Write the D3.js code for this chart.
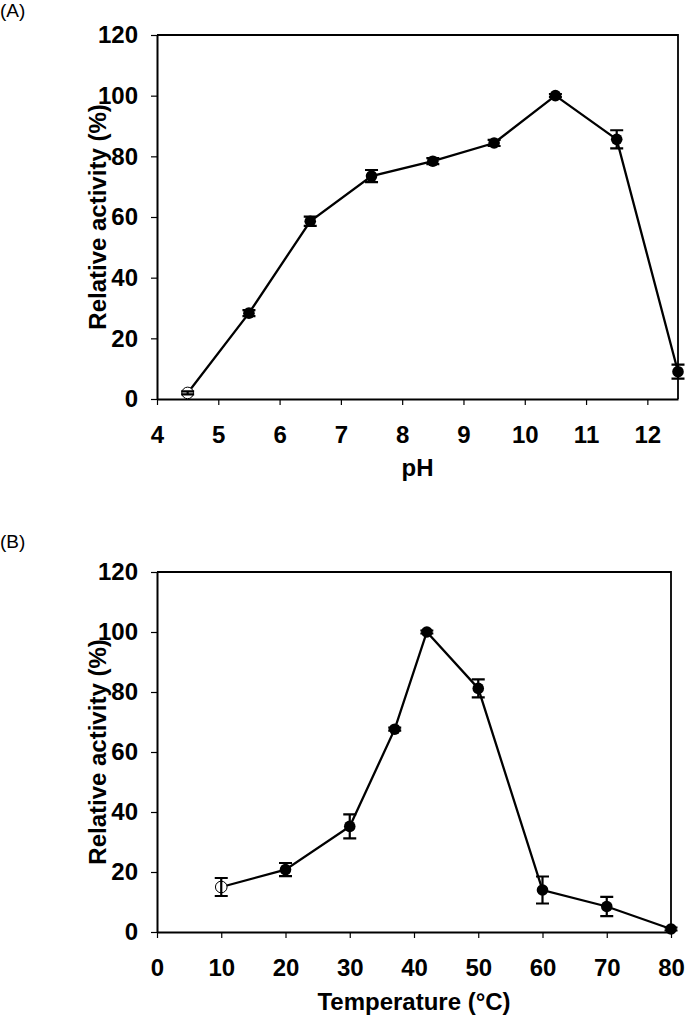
<!DOCTYPE html>
<html>
<head>
<meta charset="utf-8">
<script src="https://cdn.jsdelivr.net/npm/d3@7"></script>
<style>
  html, body { margin: 0; padding: 0; background: #fff; }
  svg { display: block; }
  text { font-family: "Liberation Sans", Arial, sans-serif; fill: #000; }
</style>
</head>
<body>
<svg id="chart" width="685" height="1022"></svg>
<script>
// ---------- Data ----------
const phValues = [4.5, 5.5, 6.5, 7.5, 8.5, 9.5, 10.5, 11.5, 12.5];
const phActivity = [2, 28.3, 58.6, 73.5, 78.4, 84.4, 100, 85.6, 9];
const phError = [0.5, 1, 1.5, 2, 1, 1, 0.5, 3, 2.3];
const phOpen = [true, false, false, false, false, false, false, false, false];
const phTicks = [4, 5, 6, 7, 8, 9, 10, 11, 12];

const tempValues = [10, 20, 30, 37, 42, 50, 60, 70, 80];
const tempActivity = [15, 20.8, 35.2, 67.6, 100, 81.2, 14, 8.5, 1];
const tempError = [3, 2.2, 4, 0.5, 0.5, 3, 4.5, 3.2, 0.5];
const tempOpen = [true, false, false, false, false, false, false, false, false];
const tempTicks = [0, 10, 20, 30, 40, 50, 60, 70, 80];

const yTicks = [0, 20, 40, 60, 80, 100, 120];

const svg = d3.select("#chart");

function panel(cfg) {
  const g = svg.append("g");
  const x = d3.scaleLinear().domain(cfg.xDomain).range([cfg.left, cfg.right]);
  const y = d3.scaleLinear().domain([0, 120]).range([cfg.bottom, cfg.top]);

  // box (top & right)
  g.append("path")
    .attr("d", `M${cfg.left},${cfg.top}H${cfg.right}V${cfg.bottom}`)
    .attr("fill", "none").attr("stroke", "#000").attr("stroke-width", 1.8);

  // y axis
  const yAxis = g.append("g").attr("transform", `translate(${cfg.left},0)`)
    .call(d3.axisLeft(y).tickValues(yTicks).tickSize(6).tickPadding(13).tickSizeOuter(0));
  yAxis.select(".domain").attr("stroke-width", 2);
  yAxis.selectAll(".tick line").attr("stroke-width", 1.2);
  yAxis.selectAll("text").attr("font-size", 24).attr("font-weight", "bold")
    .attr("font-family", "'Liberation Sans', Arial, sans-serif");

  // x axis
  const xAxis = g.append("g").attr("transform", `translate(0,${cfg.bottom})`)
    .call(d3.axisBottom(x).tickValues(cfg.xTicks).tickSize(6).tickPadding(21).tickSizeOuter(0));
  xAxis.select(".domain").attr("stroke-width", 2);
  xAxis.selectAll(".tick line").attr("stroke-width", 1.2);
  xAxis.selectAll("text").attr("font-size", 24).attr("font-weight", "bold")
    .attr("font-family", "'Liberation Sans', Arial, sans-serif");

  // axis titles
  g.append("text")
    .attr("transform", `translate(${cfg.yTitleX},${(cfg.top + cfg.bottom) / 2}) rotate(-90)`)
    .attr("text-anchor", "middle").attr("font-size", 24).attr("font-weight", "bold")
    .text("Relative activity (%)");
  g.append("text")
    .attr("x", (cfg.left + cfg.right) / 2 + cfg.xTitleDx).attr("y", cfg.xTitleY)
    .attr("text-anchor", "middle").attr("font-size", 24).attr("font-weight", "bold")
    .text(cfg.xTitle);

  // panel label
  g.append("text").attr("x", 0).attr("y", cfg.labelY)
    .attr("font-size", 19).text(cfg.label);

  const data = cfg.xs.map((v, i) => ({ x: v, y: cfg.ys[i], e: cfg.es[i], open: cfg.open[i] }));

  // line
  g.append("path").datum(data)
    .attr("d", d3.line().x(d => x(d.x)).y(d => y(d.y)))
    .attr("fill", "none").attr("stroke", "#000").attr("stroke-width", 2.3);

  // markers
  g.selectAll("circle.pt").data(data).join("circle")
    .attr("cx", d => x(d.x)).attr("cy", d => y(d.y)).attr("r", 5.8)
    .attr("fill", d => d.open ? "#fff" : "#000")
    .attr("stroke", "#000").attr("stroke-width", d => d.open ? 1 : 0);

  // error bars
  const eb = g.selectAll("g.eb").data(data).join("g");
  eb.append("path")
    .attr("d", d => {
      const cx = x(d.x), y1 = y(d.y + d.e), y2 = y(d.y - d.e);
      return `M${cx},${y1}V${y2}M${cx - 6.5},${y1}H${cx + 6.5}M${cx - 6.5},${y2}H${cx + 6.5}`;
    })
    .attr("fill", "none").attr("stroke", "#000").attr("stroke-width", 2.2);
}

panel({
  left: 157, right: 678, top: 35, bottom: 399,
  xDomain: [4, 12.5], xTicks: phTicks,
  xs: phValues, ys: phActivity, es: phError, open: phOpen,
  xTitle: "pH", xTitleY: 476, xTitleDx: 0, yTitleX: 106,
  label: "(A)", labelY: 17
});

panel({
  left: 157, right: 671, top: 572, bottom: 932,
  xDomain: [0, 80], xTicks: tempTicks,
  xs: tempValues, ys: tempActivity, es: tempError, open: tempOpen,
  xTitle: "Temperature (°C)", xTitleY: 1010, xTitleDx: 0, yTitleX: 106,
  label: "(B)", labelY: 548
});
</script>
</body>
</html>
